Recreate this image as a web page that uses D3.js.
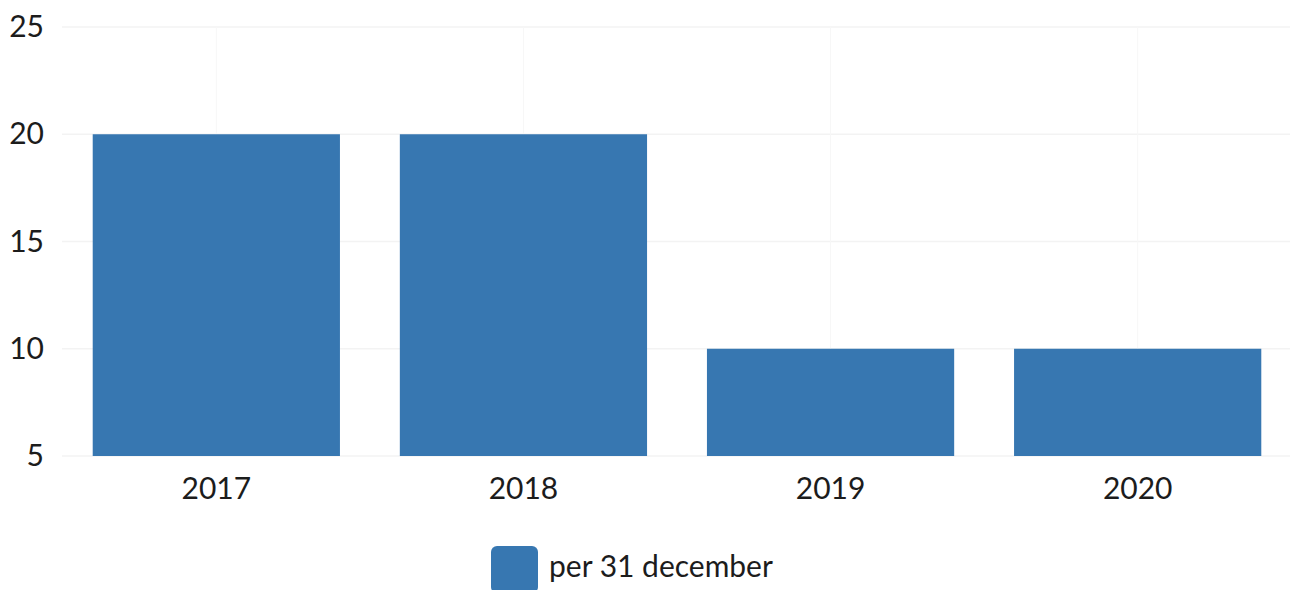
<!DOCTYPE html>
<html>
<head>
<meta charset="utf-8">
<script src="https://cdn.jsdelivr.net/npm/d3@7"></script>
<style>
	html, body { margin: 0; padding: 0; background: #fff; }
	svg { display: block; font-family: Lato, "Open Sans", sans-serif; }
</style>
</head>
<body>
<svg id="chart" width="1296" height="590"></svg>
<script>
// chart data
var years = ['2017', '2018', '2019', '2020'];
var perDecember = [20, 20, 10, 10];
var yTicks = [5, 10, 15, 20, 25];
var seriesName = 'per 31 december';

var width = 1296, height = 590;
var margin = {top: 27, right: 4, bottom: 134, left: 62};
var barColor = '#3777b1';
var textColor = '#1c1c1c';

var svg = d3.select('#chart');

var x = d3.scaleBand()
	.domain(years)
	.range([margin.left, width - margin.right])
	.paddingInner(0.195)
	.paddingOuter(0.1);

var y = d3.scaleLinear()
	.domain([5, 25])
	.range([height - margin.bottom, margin.top]);

// horizontal grid
svg.append('g')
	.selectAll('line').data(yTicks).enter().append('line')
	.attr('x1', margin.left)
	.attr('x2', width - margin.right - 2)
	.attr('y1', d => y(d))
	.attr('y2', d => y(d))
	.style('stroke', '#f3f3f3')
	.style('stroke-width', 1.5);

// vertical grid at category centers
svg.append('g')
	.selectAll('line').data(years).enter().append('line')
	.attr('x1', d => x(d) + x.bandwidth() / 2)
	.attr('x2', d => x(d) + x.bandwidth() / 2)
	.attr('y1', y(25))
	.attr('y2', y(5))
	.style('stroke', '#f7f7f7')
	.style('stroke-width', 1);

// bars
svg.append('g')
	.selectAll('rect').data(years).enter().append('rect')
	.attr('x', d => x(d))
	.attr('y', (d, i) => y(perDecember[i]))
	.attr('width', x.bandwidth())
	.attr('height', (d, i) => y(5) - y(perDecember[i]))
	.attr('fill', barColor);

// y axis labels
var yAxis = svg.append('g')
	.attr('transform', 'translate(' + (margin.left - 18) + ',0)')
	.call(d3.axisLeft(y).tickValues(yTicks).tickSize(0).tickPadding(0));
yAxis.select('.domain').remove();
yAxis.selectAll('text')
	.style('font-family', 'Lato, sans-serif')
	.style('font-size', '30px')
	.style('fill', textColor);

// x axis labels
var xAxis = svg.append('g')
	.attr('transform', 'translate(0,' + (height - margin.bottom) + ')')
	.call(d3.axisBottom(x).tickSize(0).tickPadding(22));
xAxis.select('.domain').remove();
xAxis.selectAll('text')
	.style('font-family', 'Lato, sans-serif')
	.style('font-size', '30px')
	.style('fill', textColor);

// legend
var legend = svg.append('g').attr('transform', 'translate(491,546)');
legend.append('rect')
	.attr('width', 47)
	.attr('height', 47)
	.attr('rx', 6)
	.attr('fill', barColor);
legend.append('text')
	.attr('x', 58)
	.attr('y', 31)
	.style('font-family', 'Lato, sans-serif')
	.style('font-size', '30px')
	.style('fill', textColor)
	.text(seriesName);
</script>
</body>
</html>
